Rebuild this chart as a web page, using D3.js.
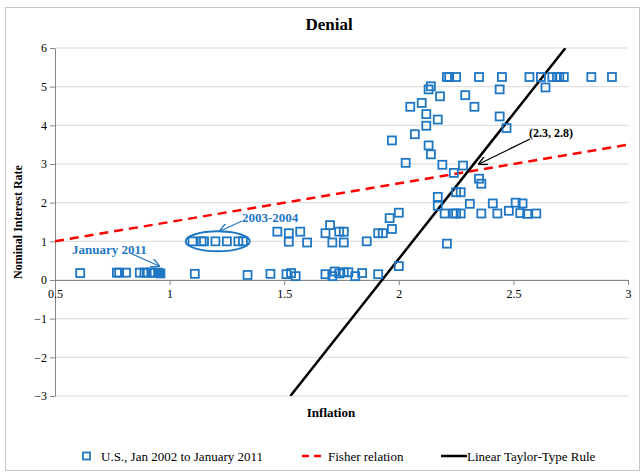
<!DOCTYPE html>
<html>
<head>
<meta charset="utf-8">
<script src="https://cdn.jsdelivr.net/npm/d3@7"></script>
<style>
  body { margin: 0; background: #fff; }
  text { font-family: 'Liberation Serif', 'Times New Roman', serif; }
</style>
</head>
<body>
<script>
// inflation (x) and nominal rate (y)
const inflation = [
  0.61, 0.77, 0.78, 0.81, 0.87, 0.89, 0.90, 0.92, 0.93, 0.95, 1.11,
  1.34, 1.44, 1.51, 1.53, 1.55, 1.68, 1.71, 1.72, 1.74, 1.76, 1.78, 1.81, 1.84, 1.91, 2.00,
  1.10, 1.14, 1.15, 1.20, 1.25, 1.30, 1.32,
  1.47, 1.52, 1.52, 1.57, 1.60, 1.68, 1.70, 1.71, 1.74, 1.76, 1.76, 1.86, 1.91, 1.93, 1.96, 1.97, 2.00, 2.21,
  2.17, 2.17, 2.20, 2.24, 2.25, 2.27, 2.25, 2.27, 2.31, 2.36, 2.35, 2.36, 2.24, 2.41, 2.43, 2.48, 2.51, 2.54, 2.53, 2.56, 2.60,
  2.03, 2.19, 2.28, 1.97, 2.07, 2.13, 2.14, 2.05, 2.10, 2.12, 2.17, 2.12,
  2.14, 2.13, 2.18, 2.29, 2.33, 2.44, 2.47, 2.44, 2.64,
  2.21, 2.22, 2.25, 2.35, 2.45, 2.57, 2.62, 2.67, 2.69, 2.70, 2.72, 2.84, 2.93,
  0.96
]
const rate = [
  0.18, 0.19, 0.19, 0.19, 0.19, 0.19, 0.19, 0.19, 0.19, 0.19, 0.16,
  0.13, 0.16, 0.15, 0.18, 0.10, 0.15, 0.10, 0.22, 0.17, 0.20, 0.20, 0.10, 0.18, 0.15, 0.36,
  1.00, 1.00, 1.00, 1.00, 1.00, 1.00, 1.00,
  1.25, 1.21, 0.99, 1.25, 0.97, 1.21, 1.42, 0.97, 1.25, 1.25, 0.97, 1.00, 1.21, 1.21, 1.60, 1.32, 1.74, 0.94,
  2.15, 1.92, 1.72, 1.72, 1.72, 1.72, 2.27, 2.27, 1.97, 1.72, 2.62, 2.49, 2.77, 1.98, 1.72, 1.79, 2.00, 1.98, 1.73, 1.71, 1.72,
  3.03, 2.98, 2.96, 3.61, 3.77, 3.48, 3.25, 4.48, 4.58, 4.29, 4.15, 3.99,
  5.01, 4.93, 4.75, 4.78, 4.48, 4.23, 3.93, 4.93, 4.98,
  5.25, 5.25, 5.25, 5.25, 5.25, 5.25, 5.25, 5.25, 5.25, 5.25, 5.25, 5.25, 5.25,
  0.17
]
const xTicks = [0.5, 1, 1.5, 2, 2.5, 3]
const yTicks = [-3, -2, -1, 0, 1, 2, 3, 4, 5, 6]
const fisherX = [0.5, 3]
const fisherY = [1, 3.5]
const taylorX = [1.527, 2.727]
const taylorY = [-3, 6]

const width = 642
const height = 473
const blue = '#1f77c4'

const svg = d3.select('body')
  .append('svg')
  .attr('width', width)
  .attr('height', height)

svg.append('rect')
  .attr('x', 5.5).attr('y', 7.5)
  .attr('width', 634).attr('height', 463)
  .attr('fill', '#fff')
  .attr('stroke', '#c8c8c8')

const x = d3.scaleLinear().domain([0.5, 3]).range([55, 628])
const y = d3.scaleLinear().domain([-3, 6]).range([396, 48])

// gridlines
svg.append('g')
  .selectAll('line')
  .data(yTicks)
  .enter()
  .append('line')
  .attr('x1', x(0.5)).attr('x2', x(3))
  .attr('y1', d => y(d)).attr('y2', d => y(d))
  .attr('stroke', '#d9d9d9')

const yAxis = svg.append('g')
  .attr('transform', `translate(${x(0.5)},0)`)
  .call(d3.axisLeft(y).tickValues(yTicks).tickSize(5).tickSizeOuter(0).tickFormat(d3.format('d')))
const xAxis = svg.append('g')
  .attr('transform', `translate(0,${y(0)})`)
  .call(d3.axisBottom(x).tickValues(xTicks).tickSize(5).tickSizeOuter(0).tickFormat(d => String(d)))
for (const ax of [yAxis, xAxis]) {
  ax.select('.domain').attr('stroke', '#868686')
  ax.selectAll('.tick line').attr('stroke', '#868686')
  ax.selectAll('.tick text')
    .attr('font-family', 'Liberation Serif')
    .attr('font-size', 12)
    .attr('fill', '#000')
}
xAxis.selectAll('.tick text').attr('dy', '0.71em').attr('y', 9)
yAxis.selectAll('.tick text').attr('x', -8)

svg.append('clipPath').attr('id', 'plot')
  .append('rect')
  .attr('x', x(0.5)).attr('y', y(6))
  .attr('width', x(3) - x(0.5)).attr('height', y(-3) - y(6))

const line = d3.line().x(d => x(d[0])).y(d => y(d[1]))

svg.append('path')
  .datum(d3.zip(fisherX, fisherY))
  .attr('d', line)
  .attr('fill', 'none')
  .attr('stroke', '#ff0000')
  .attr('stroke-width', 2.5)
  .attr('stroke-dasharray', '9,6')
  .attr('clip-path', 'url(#plot)')

svg.append('path')
  .datum(d3.zip(taylorX, taylorY))
  .attr('d', line)
  .attr('fill', 'none')
  .attr('stroke', '#000')
  .attr('stroke-width', 2.5)
  .attr('clip-path', 'url(#plot)')

// scatter
const pts = d3.zip(inflation, rate)
const sq = 8
svg.append('g')
  .selectAll('rect')
  .data(pts)
  .enter()
  .append('rect')
  .attr('x', d => x(d[0]) - sq / 2)
  .attr('y', d => y(d[1]) - sq / 2)
  .attr('width', sq).attr('height', sq)
  .attr('fill', (d, i) => i === pts.length - 1 ? blue : 'none')
  .attr('stroke', blue)
  .attr('stroke-width', 1.8)

// annotations
const defs = svg.append('defs')
function marker (id, color) {
  defs.append('marker')
    .attr('id', id)
    .attr('viewBox', '0 0 10 10')
    .attr('refX', 9).attr('refY', 5)
    .attr('markerWidth', 9).attr('markerHeight', 9)
    .attr('markerUnits', 'userSpaceOnUse')
    .attr('orient', 'auto')
    .append('path')
    .attr('d', 'M0,0 L10,5 L0,10')
    .attr('fill', 'none')
    .attr('stroke', color)
    .attr('stroke-width', 1.5)
}
marker('arrB', blue)
marker('arrK', '#000')

function arrow (x1, y1, x2, y2, color, id) {
  svg.append('line')
    .attr('x1', x1).attr('y1', y1).attr('x2', x2).attr('y2', y2)
    .attr('stroke', color).attr('stroke-width', 1.2)
    .attr('marker-end', `url(#${id})`)
}

svg.append('ellipse')
  .attr('cx', x(1.21)).attr('cy', y(1))
  .attr('rx', 32).attr('ry', 10)
  .attr('fill', 'none')
  .attr('stroke', blue)
  .attr('stroke-width', 2)

arrow(242, 221, 220, 231, blue, 'arrB')
svg.append('text')
  .attr('x', 242).attr('y', 222)
  .attr('font-size', 13).attr('font-weight', 'bold')
  .attr('fill', blue)
  .text('2003-2004')

arrow(130, 253, 159, 266, blue, 'arrB')
svg.append('text')
  .attr('x', 72).attr('y', 254)
  .attr('font-size', 13).attr('font-weight', 'bold')
  .attr('fill', blue)
  .text('January 2011')

arrow(530, 139, 479, 164, '#000', 'arrK')
svg.append('text')
  .attr('x', 529).attr('y', 137)
  .attr('font-size', 12).attr('font-weight', 'bold')
  .text('(2.3, 2.8)')

// titles
svg.append('text')
  .attr('x', 329).attr('y', 30)
  .attr('text-anchor', 'middle')
  .attr('font-size', 17).attr('font-weight', 'bold')
  .text('Denial')
svg.append('text')
  .attr('x', 331).attr('y', 417)
  .attr('text-anchor', 'middle')
  .attr('font-size', 13).attr('font-weight', 'bold')
  .text('Inflation')
svg.append('text')
  .attr('transform', `translate(22,${(y(6) + y(-3)) / 2}) rotate(-90)`)
  .attr('text-anchor', 'middle')
  .attr('font-size', 12).attr('font-weight', 'bold')
  .text('Nominal Interest Rate')

// legend
const ly = 456
svg.append('rect')
  .attr('x', 83).attr('y', ly - 3.5)
  .attr('width', 7).attr('height', 7)
  .attr('fill', 'none').attr('stroke', blue).attr('stroke-width', 1.8)
svg.append('text').attr('x', 101).attr('y', ly + 4.5)
  .attr('font-size', 13).text('U.S., Jan 2002 to January 2011')
svg.append('line')
  .attr('x1', 302).attr('x2', 326).attr('y1', ly).attr('y2', ly)
  .attr('stroke', '#ff0000').attr('stroke-width', 2.5).attr('stroke-dasharray', '7,5')
svg.append('text').attr('x', 328).attr('y', ly + 4.5)
  .attr('font-size', 13).text('Fisher relation')
svg.append('line')
  .attr('x1', 441).attr('x2', 467).attr('y1', ly).attr('y2', ly)
  .attr('stroke', '#000').attr('stroke-width', 2.5)
svg.append('text').attr('x', 467).attr('y', ly + 4.5)
  .attr('font-size', 13).text('Linear Taylor-Type Rule')
</script>
</body>
</html>
